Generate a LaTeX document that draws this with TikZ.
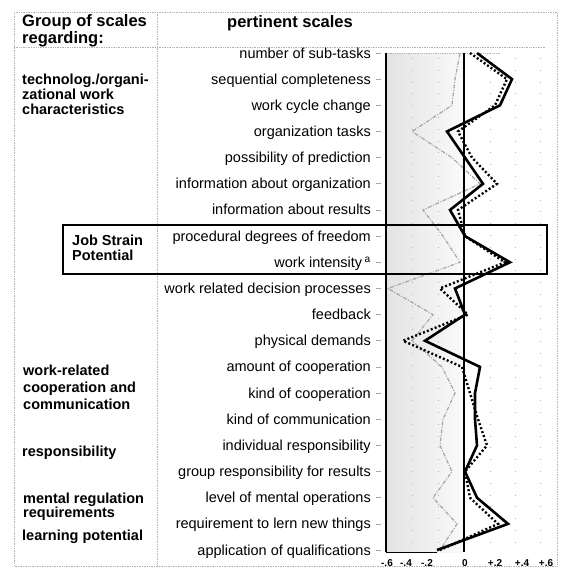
\documentclass[tikz,border=0pt]{standalone}
\usepackage{fontspec}
\setmainfont{Liberation Sans}
\begin{document}
\begin{tikzpicture}[x=1pt,y=-1pt,
  rowlab/.style={anchor=base east, inner sep=0pt, font=\fontsize{14.5}{15}\selectfont},
  grouplab/.style={anchor=north west, align=left, inner sep=0pt, font=\bfseries\fontsize{14.5}{15}\selectfont},
  headlab/.style={anchor=base, inner sep=0pt, font=\bfseries\fontsize{16.5}{15}\selectfont},
  axlab/.style={anchor=base, inner sep=0pt, font=\bfseries\fontsize{10}{12}\selectfont},
  border/.style={gray!60, densely dotted, line width=0.7pt},
  axisline/.style={black, line width=2pt},
  gridline/.style={gray!60, line width=0.8pt, dash pattern=on 0.8pt off 11pt},
  solidser/.style={black, line width=2.6pt, line join=miter},
  dotser/.style={black, line width=2.4pt, dash pattern=on 2pt off 2.2pt},
  greyser/.style={gray!70, line width=1.2pt, dash pattern=on 4pt off 1.5pt on 1pt off 1.5pt},
  jobbox/.style={black, line width=2.6pt},
  tick/.style={gray!70, line width=0.7pt}]
\useasboundingbox (0,0) rectangle (562,576);
\fill[white] (0,0) rectangle (562,576);

% frame and table rules
\draw[border] (14,12) -- (557,12) -- (557,566) -- (14,566) -- cycle;
\draw[border] (157,12) -- (157,566);
\draw[border] (14,47) -- (545,47);

% headers
\node[headlab, anchor=base west] (h1) at (22,26) {Group of scales};
\node[headlab, anchor=base west] (h2) at (22,43.5) {regarding:};
\node[headlab] (h3) at (290,27) {pertinent scales};

% chart background
\shade[left color=gray!22, right color=gray!4] (386,53) rectangle (464,552);
\foreach \gx in {412,438,490,515,540} \draw[gridline] (\gx,58) -- (\gx,548);
\draw[gray!60, densely dotted, line width=0.8pt] (386,53) -- (500,53);
\draw[black, line width=1pt] (386,552) -- (437,552);

% row labels
\foreach \lab [count=\i] in {number of sub-tasks, sequential completeness, work cycle change, organization tasks, possibility of prediction, information about organization, information about results, procedural degrees of freedom, work intensity\,\textsuperscript{a}, work related decision processes, feedback, physical demands, amount of cooperation, kind of cooperation, kind of communication, individual responsibility, group responsibility for results, level of mental operations, requirement to lern new things, application of qualifications}{
  \pgfmathsetmacro{\ry}{53+(\i-1)*26.16}
  \node[rowlab] (r\i) at (371,\ry+5) {\lab};
  \draw[tick] (376,\ry) -- (381,\ry);
}

% group labels
\node[grouplab] (g1) at (22,74) {technolog./organi-\\zational work\\characteristics};
\node[grouplab] (g2) at (72,235) {Job Strain\\Potential};
\node[grouplab, font=\bfseries\fontsize{14.5}{17}\selectfont] (g3) at (23,365) {work-related\\cooperation and\\communication};
\node[grouplab] (g4) at (22,446) {responsibility};
\node[grouplab, font=\bfseries\fontsize{14.5}{14}\selectfont] (g5) at (23,493) {mental regulation\\requirements};
\node[grouplab] (g6) at (22,530) {learning potential};

% series points
\foreach \sx [count=\i] in {477,512,500,447,465,483,450,465,510,455,465,425,480,475,475,477,465,477,508,437}
  \coordinate (s\i) at (\sx,{53+(\i-1)*26.16});
\foreach \dx [count=\i] in {470,507,495,458,472,497,458,465,505,440,468,403,462,470,478,487,465,470,498,440}
  \coordinate (d\i) at (\dx,{53+(\i-1)*26.16});
\foreach \gxx [count=\i] in {460,455,452,412,452,480,423,443,460,388,433,412,442,455,443,440,452,433,457,440}
  \coordinate (q\i) at (\gxx,{53+(\i-1)*26.16});

\draw[greyser] (q1) \foreach \i in {2,...,20}{ -- (q\i)};
\draw[dotser] (d1) \foreach \i in {2,...,20}{ -- (d\i)};
\draw[solidser] (s1) \foreach \i in {2,...,20}{ -- (s\i)};

% axes
\draw[axisline] (386,53) -- (386,552);
\draw[axisline] (464,53) -- (464,552);

% job strain box
\draw[jobbox] (63,225) rectangle (547,274);

% axis labels
\node[axlab] (a1) at (387,566) {-.6};
\node[axlab] (a2) at (406,566) {-.4};
\node[axlab] (a3) at (427,566) {-.2};
\node[axlab] (a4) at (465,566) {0};
\node[axlab] (a5) at (495,566) {+.2};
\node[axlab] (a6) at (522,566) {+.4};
\node[axlab] (a7) at (546,566) {+.6};
\end{tikzpicture}
\end{document}
